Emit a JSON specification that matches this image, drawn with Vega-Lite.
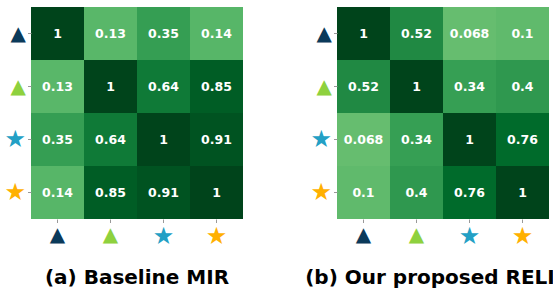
{
  "$schema": "https://vega.github.io/schema/vega-lite/v6.json",
  "background": "white",
  "padding": {"left": 3, "top": 7, "right": 0, "bottom": 0},
  "bounds": "flush",
  "spacing": 94,
  "config": {"view": {"stroke": null}, "font": "DejaVu Sans",
    "axis": {"title": null, "domain": false, "tickColor": "#999999", "tickSize": 3.5, "labelPadding": 2, "labelFont": "DejaVu Sans",
      "labelExpr": "datum.value === 'A' || datum.value === 'B' ? '▲' : '★'",
      "labelColor": {"condition": [{"test": "datum.value === 'A'", "value": "#0b3a5a"}, {"test": "datum.value === 'B'", "value": "#8ed13e"}, {"test": "datum.value === 'C'", "value": "#23a0c5"}], "value": "#ffb000"},
      "labelFontSize": {"condition": {"test": "datum.value === 'A' || datum.value === 'B'", "value": 20}, "value": 24}}},
  "datasets": {
    "a": [
      {"row": "A", "col": "A", "value": 1}, {"row": "A", "col": "B", "value": 0.13}, {"row": "A", "col": "C", "value": 0.35}, {"row": "A", "col": "D", "value": 0.14},
      {"row": "B", "col": "A", "value": 0.13}, {"row": "B", "col": "B", "value": 1}, {"row": "B", "col": "C", "value": 0.64}, {"row": "B", "col": "D", "value": 0.85},
      {"row": "C", "col": "A", "value": 0.35}, {"row": "C", "col": "B", "value": 0.64}, {"row": "C", "col": "C", "value": 1}, {"row": "C", "col": "D", "value": 0.91},
      {"row": "D", "col": "A", "value": 0.14}, {"row": "D", "col": "B", "value": 0.85}, {"row": "D", "col": "C", "value": 0.91}, {"row": "D", "col": "D", "value": 1}
    ],
    "b": [
      {"row": "A", "col": "A", "value": 1}, {"row": "A", "col": "B", "value": 0.52}, {"row": "A", "col": "C", "value": 0.068}, {"row": "A", "col": "D", "value": 0.1},
      {"row": "B", "col": "A", "value": 0.52}, {"row": "B", "col": "B", "value": 1}, {"row": "B", "col": "C", "value": 0.34}, {"row": "B", "col": "D", "value": 0.4},
      {"row": "C", "col": "A", "value": 0.068}, {"row": "C", "col": "B", "value": 0.34}, {"row": "C", "col": "C", "value": 1}, {"row": "C", "col": "D", "value": 0.76},
      {"row": "D", "col": "A", "value": 0.1}, {"row": "D", "col": "B", "value": 0.4}, {"row": "D", "col": "C", "value": 0.76}, {"row": "D", "col": "D", "value": 1}
    ]
  },
  "hconcat": [
    {
      "data": {"name": "a"},
      "width": 212,
      "height": 212,
      "title": {"text": "(a) Baseline MIR", "orient": "bottom", "fontSize": 20, "fontWeight": "bold", "font": "DejaVu Sans", "color": "black", "offset": 19},
      "encoding": {
        "x": {"field": "col", "type": "nominal", "scale": {"paddingInner": 0, "paddingOuter": 0}, "axis": {"labelAngle": 0}},
        "y": {"field": "row", "type": "nominal", "scale": {"paddingInner": 0, "paddingOuter": 0}, "axis": {}}
      },
      "layer": [
        {"mark": {"type": "rect"}, "encoding": {"color": {"field": "value", "type": "quantitative", "scale": {"domain": [0, 0.25, 0.5, 0.75, 1], "range": ["#74c476", "#41ab5d", "#238b45", "#006d2c", "#00441b"], "interpolate": "rgb"}, "legend": null}}},
        {"mark": {"type": "text", "font": "DejaVu Sans", "fontWeight": "bold", "fontSize": 12.5, "color": "white"}, "encoding": {"text": {"field": "value", "type": "nominal"}}}
      ]
    },
    {
      "data": {"name": "b"},
      "width": 212,
      "height": 212,
      "title": {"text": "(b) Our proposed RELI", "orient": "bottom", "fontSize": 20, "fontWeight": "bold", "font": "DejaVu Sans", "color": "black", "offset": 19, "dx": -13},
      "encoding": {
        "x": {"field": "col", "type": "nominal", "scale": {"paddingInner": 0, "paddingOuter": 0}, "axis": {"labelAngle": 0}},
        "y": {"field": "row", "type": "nominal", "scale": {"paddingInner": 0, "paddingOuter": 0}, "axis": {}}
      },
      "layer": [
        {"mark": {"type": "rect"}, "encoding": {"color": {"field": "value", "type": "quantitative", "scale": {"domain": [0, 0.25, 0.5, 0.75, 1], "range": ["#74c476", "#41ab5d", "#238b45", "#006d2c", "#00441b"], "interpolate": "rgb"}, "legend": null}}},
        {"mark": {"type": "text", "font": "DejaVu Sans", "fontWeight": "bold", "fontSize": 12.5, "color": "white"}, "encoding": {"text": {"field": "value", "type": "nominal"}}}
      ]
    }
  ]
}
